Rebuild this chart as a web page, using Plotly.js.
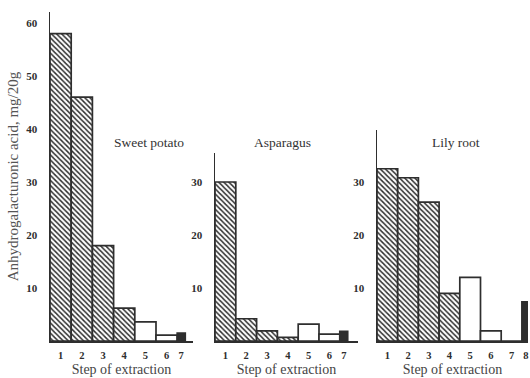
<!DOCTYPE html>
<html>
<head>
<meta charset="utf-8">
<script src="https://cdn.plot.ly/plotly-3.0.1.min.js"></script>
<style>html,body{margin:0;padding:0;background:#fff;}#chart{width:530px;height:378px;}</style>
</head>
<body>
<div id="chart"></div>
<script>
// ---- data ----
const panelNames = ["Sweet potato", "Asparagus", "Lily root"];
const stepsSweetPotato = [1, 2, 3, 4, 5, 6, 7];
const sweetPotato      = [58, 46, 18, 6.2, 3.6, 1.1, 1.5];
const kindsSweetPotato = ["h", "h", "h", "h", "o", "o", "s"];

const stepsAsparagus = [1, 2, 3, 4, 5, 6, 7];
const asparagus      = [30, 4.2, 1.9, 0.7, 3.2, 1.3, 1.8];
const kindsAsparagus = ["h", "h", "h", "h", "o", "o", "s"];

const stepsLily = [1, 2, 3, 4, 5, 6, 7, 8];
const lilyRoot  = [32.5, 30.8, 26.2, 9, 12, 1.9, 0, 7.4];
const kindsLily = ["h", "h", "h", "h", "o", "o", "o", "s"];

const yTicks1 = [10, 20, 30, 40, 50, 60];
const yTicks2 = [10, 20, 30];
const yTicks3 = [10, 20, 30];

const xTitle = "Step of extraction";
const yTitle = "Anhydrogalacturonic acid, mg/20g";

// ---- styling / layout ----
const W = 530, H = 378;
const ink = "#2e2e2e";
const serif = "Liberation Serif, Times New Roman, serif";
const baseY = 341;          // pixel of zero line
const pxPerUnit = 5.3;      // vertical pixels per mg
const narrowW = 0.38;       // width of the dark final bar

const panels = [
  {steps: stepsSweetPotato, vals: sweetPotato, kinds: kindsSweetPotato, x0: 50, x1: 193, top: 12, unit: 21.2, yt: yTicks1, lab: {x: 149, y: 142}},
  {steps: stepsAsparagus, vals: asparagus, kinds: kindsAsparagus, x0: 215, x1: 358, top: 153, unit: 20.8, yt: yTicks2, lab: {x: 282, y: 143}},
  {steps: stepsLily, vals: lilyRoot, kinds: kindsLily, x0: 377, x1: 528, top: 130, unit: 20.7, yt: yTicks3, lab: {x: 456, y: 143}}
];

const styleOf = {
  h: {color: "#ffffff", pattern: {shape: "\\", fgcolor: ink, bgcolor: "#ffffff", fillmode: "replace", size: 3.6, solidity: 0.42}},
  o: {color: "#ffffff"},
  s: {color: ink}
};

const traces = [];
const layout = {
  width: W, height: H, autosize: false,
  margin: {l: 0, r: 0, t: 0, b: 0, pad: 0},
  paper_bgcolor: "#fff", plot_bgcolor: "rgba(0,0,0,0)",
  showlegend: false, bargap: 0, barmode: "overlay",
  font: {family: serif, color: ink},
  annotations: []
};

panels.forEach((p, i) => {
  const n = i === 0 ? "" : String(i + 1);
  const widths = p.kinds.map(k => k === "s" ? narrowW : 1);
  const centers = p.steps.map((s, j) => s - 0.5 + widths[j] / 2);
  ["h", "o", "s"].forEach(kind => {
    const idx = p.kinds.map((k, j) => k === kind ? j : -1).filter(j => j >= 0);
    const st = styleOf[kind];
    const marker = {color: st.color, line: {color: ink, width: 1.7}};
    if (st.pattern) marker.pattern = st.pattern;
    traces.push({
      type: "bar",
      x: idx.map(j => p.steps[j]),
      y: idx.map(j => p.vals[j]),
      width: idx.map(j => widths[j]),
      offset: idx.map(j => -0.5),
      xaxis: "x" + n, yaxis: "y" + n,
      marker: marker,
      hoverinfo: "skip"
    });
  });
  const xr1 = 0.5 + (p.x1 - p.x0) / p.unit;
  layout["xaxis" + n] = {
    domain: [p.x0 / W, p.x1 / W], range: [0.5, xr1],
    anchor: "y" + n, showgrid: false, zeroline: false,
    showline: true, linecolor: ink, linewidth: 1.5,
    tickmode: "array", tickvals: centers, ticktext: p.steps.map(String),
    ticks: "", ticklabelstandoff: 4,
    tickfont: {family: serif, size: 10.5, color: ink, weight: "bold"},
    title: {text: xTitle, font: {family: serif, size: 14, color: "#444"}, standoff: 4},
    fixedrange: true
  };
  layout["yaxis" + n] = {
    domain: [(H - baseY) / H, (H - p.top) / H],
    range: [0, (baseY - p.top) / pxPerUnit],
    anchor: "x" + n, showgrid: false, zeroline: false,
    showline: true, linecolor: ink, linewidth: 1.5,
    tickmode: "array", tickvals: p.yt, ticktext: p.yt.map(String),
    ticks: "", ticklabelstandoff: 9,
    tickfont: {family: serif, size: 11, color: ink, weight: "bold"},
    fixedrange: true
  };
  layout.annotations.push({
    xref: "paper", yref: "paper",
    x: p.lab.x / W, y: (H - p.lab.y) / H,
    text: panelNames[i], showarrow: false,
    font: {family: serif, size: 13.5, color: "#333"},
    xanchor: "center", yanchor: "middle"
  });
});

layout.yaxis.title = {text: yTitle, font: {family: serif, size: 15, color: "#555"}, standoff: 4};

Plotly.newPlot("chart", traces, layout, {staticPlot: true, displayModeBar: false});
</script>
</body>
</html>
